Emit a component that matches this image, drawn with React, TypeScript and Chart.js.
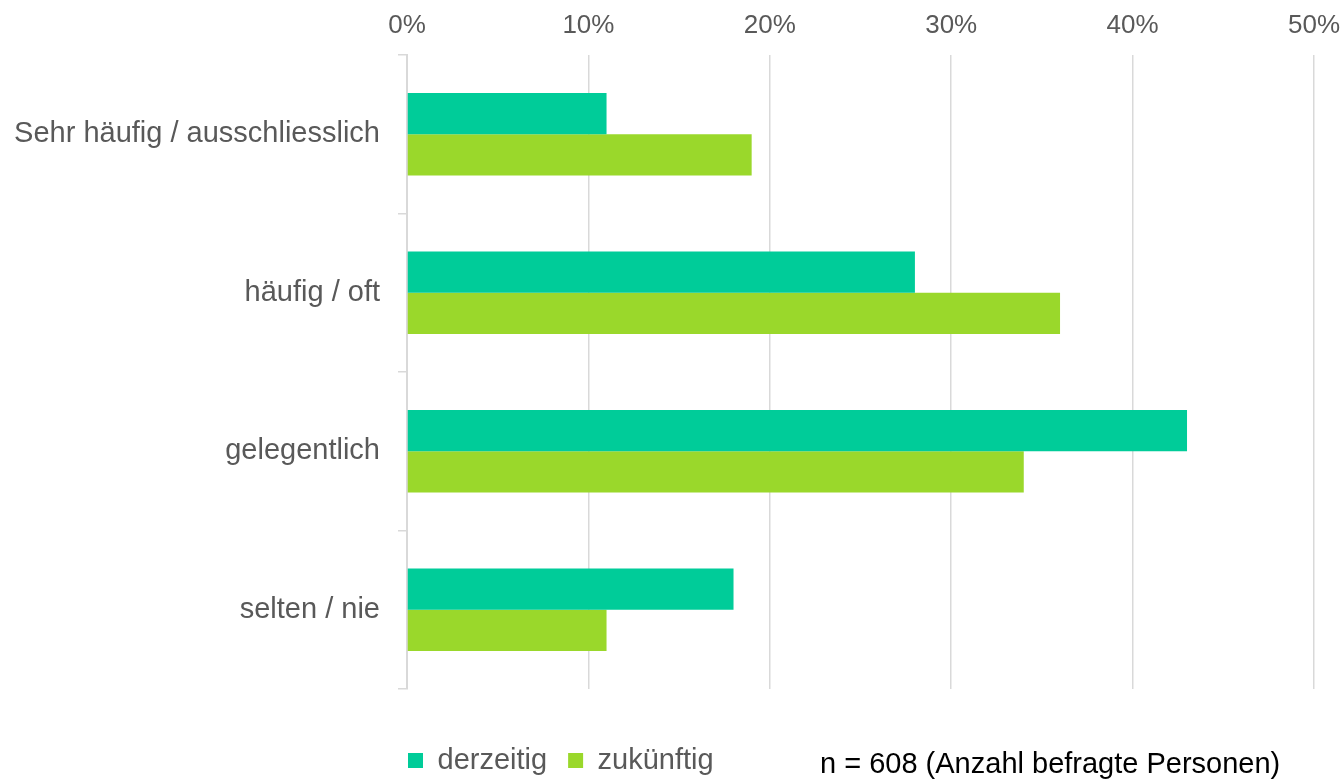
import React, { useEffect, useRef } from "react";
import { Chart, registerables } from "chart.js";

Chart.register(...registerables);

const categories = [
  "Sehr häufig / ausschliesslich",
  "häufig / oft",
  "gelegentlich",
  "selten / nie",
];
const derzeitig = [11, 28, 43, 18];
const zukuenftig = [19, 36, 34, 11];
const seriesNames = ["derzeitig", "zukünftig"];
const noteText = "n = 608 (Anzahl befragte Personen)";

const FONT = '"Liberation Sans", Arial, Helvetica, sans-serif';
const GRID = "#d9d9d9";
const TEXT = "#595959";

const legendShift = {
  id: "legendShift",
  afterLayout(chart: any) {
    const l = chart.legend;
    if (!l) return;
    const pad = l.options.labels.padding;
    const dx = chart.chartArea.left + 1 - (l.left + pad);
    l.left += dx;
    l.right += dx;
    const dy = 36;
    l.top += dy;
    l.bottom += dy;
  },
};

export default function App() {
  const ref = useRef<HTMLCanvasElement | null>(null);

  useEffect(() => {
    document.body.style.margin = "0";
    const ctx = ref.current!;
    const chart = new Chart(ctx, {
      type: "bar",
      data: {
        labels: categories,
        datasets: [
          {
            label: seriesNames[0],
            data: derzeitig,
            backgroundColor: "#00CC99",
            borderWidth: 0,
            categoryPercentage: 0.522,
            barPercentage: 1,
          },
          {
            label: seriesNames[1],
            data: zukuenftig,
            backgroundColor: "#9AD82B",
            borderWidth: 0,
            categoryPercentage: 0.522,
            barPercentage: 1,
          },
        ],
      },
      options: {
        indexAxis: "y",
        animation: false,
        responsive: true,
        maintainAspectRatio: false,
        layout: { padding: { left: 0, right: 30, top: 0, bottom: 30 } },
        scales: {
          x: {
            position: "top",
            min: 0,
            max: 50,
            ticks: {
              stepSize: 10,
              padding: 14,
              color: TEXT,
              font: { family: FONT, size: 26 },
              callback: (v: any) => v + "%",
            },
            grid: { color: GRID, lineWidth: 1.5, drawTicks: false },
            border: { display: false },
            afterFit: (s: any) => {
              s.height = 55;
              s.paddingLeft = 0;
              s.paddingRight = 0;
            },
          },
          y: {
            ticks: {
              padding: 18,
              color: TEXT,
              font: { family: FONT, size: 29 },
            },
            grid: {
              offset: true,
              drawOnChartArea: false,
              drawTicks: true,
              tickLength: 9,
              color: GRID,
              lineWidth: 1.5,
            },
            border: { display: true, color: GRID, width: 2 },
            afterFit: (s: any) => {
              s.width = 407;
            },
          },
        },
        plugins: {
          legend: {
            display: true,
            position: "bottom",
            align: "start",
            fullSize: false,
            labels: {
              boxWidth: 15,
              boxHeight: 15,
              padding: 21,
              color: TEXT,
              font: { family: FONT, size: 29 },
            },
          },
          tooltip: { enabled: false },
        },
      },
      plugins: [legendShift],
    });
    return () => chart.destroy();
  }, []);

  return (
    <div style={{ position: "relative", width: 1344, height: 779 }}>
      <canvas ref={ref} />
      <div
        style={{
          position: "absolute",
          left: 820,
          top: 746,
          fontFamily: FONT,
          fontSize: 29,
          lineHeight: "34px",
          color: "#000000",
          whiteSpace: "nowrap",
        }}
      >
        {noteText}
      </div>
    </div>
  );
}
